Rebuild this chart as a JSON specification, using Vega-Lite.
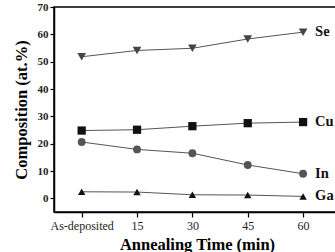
{
  "$schema": "https://vega.github.io/schema/vega-lite/v6.json",
  "autosize": "none",
  "width": 286,
  "height": 205,
  "padding": {"left": 54, "top": 7, "right": 0, "bottom": 40},
  "background": "white",
  "config": {
    "font": "Liberation Serif",
    "view": {"stroke": "black", "strokeWidth": 1.5},
    "axis": {"grid": false, "domainColor": "black", "domainWidth": 1.5, "tickColor": "black", "tickWidth": 1.2, "labelColor": "#222", "titleColor": "black", "labelFont": "Liberation Serif", "titleFont": "Liberation Serif"}
  },
  "data": {
    "values": [
      {"el": "Se", "t": 0, "v": 51.8},
      {"el": "Se", "t": 15, "v": 54.1},
      {"el": "Se", "t": 30, "v": 54.9},
      {"el": "Se", "t": 45, "v": 58.3},
      {"el": "Se", "t": 60, "v": 60.8},
      {"el": "Cu", "t": 0, "v": 24.8},
      {"el": "Cu", "t": 15, "v": 25.1},
      {"el": "Cu", "t": 30, "v": 26.4},
      {"el": "Cu", "t": 45, "v": 27.5},
      {"el": "Cu", "t": 60, "v": 27.9},
      {"el": "In", "t": 0, "v": 20.6},
      {"el": "In", "t": 15, "v": 17.9},
      {"el": "In", "t": 30, "v": 16.5},
      {"el": "In", "t": 45, "v": 12.2},
      {"el": "In", "t": 60, "v": 9.0},
      {"el": "Ga", "t": 0, "v": 2.4},
      {"el": "Ga", "t": 15, "v": 2.3},
      {"el": "Ga", "t": 30, "v": 1.3},
      {"el": "Ga", "t": 45, "v": 1.2},
      {"el": "Ga", "t": 60, "v": 0.7}
    ]
  },
  "encoding": {
    "x": {
      "field": "t", "type": "quantitative",
      "scale": {"domain": [-7.5, 70], "nice": false, "zero": false},
      "axis": {
        "values": [0, 15, 30, 45, 60],
        "labelExpr": "datum.value == 0 ? 'As-deposited' : datum.label",
        "labelFontSize": 12, "tickSize": 5, "labelPadding": 3,
        "title": "Annealing Time (min)", "titleFontSize": 16.5, "titleFontWeight": "bold", "titlePadding": 5
      }
    },
    "y": {
      "field": "v", "type": "quantitative",
      "scale": {"domain": [-5, 70], "nice": false, "zero": false},
      "axis": {
        "values": [0, 10, 20, 30, 40, 50, 60, 70],
        "labelFontSize": 11, "labelFontWeight": "bold", "tickSize": 4, "labelPadding": 2,
        "title": "Composition (at.%)", "titleFontSize": 16.5, "titleFontWeight": "bold", "titlePadding": 8
      }
    }
  },
  "layer": [
    {
      "mark": {"type": "line", "color": "#555", "strokeWidth": 1},
      "encoding": {"detail": {"field": "el"}}
    },
    {
      "mark": {"type": "point", "filled": true, "opacity": 1},
      "encoding": {
        "shape": {
          "field": "el", "type": "nominal",
          "scale": {"domain": ["Se", "Cu", "In", "Ga"], "range": ["triangle-down", "square", "circle", "triangle-up"]},
          "legend": null
        },
        "color": {
          "field": "el", "type": "nominal",
          "scale": {"domain": ["Se", "Cu", "In", "Ga"], "range": ["#444", "#111", "#555", "#111"]},
          "legend": null
        },
        "size": {
          "field": "el", "type": "nominal",
          "scale": {"domain": ["Se", "Cu", "In", "Ga"], "range": [75, 55, 70, 65]},
          "legend": null
        }
      }
    },
    {
      "transform": [{"filter": "datum.t == 60"}],
      "mark": {"type": "text", "align": "left", "baseline": "middle", "dx": 12, "fontSize": 14.5, "fontWeight": "bold", "font": "Liberation Serif", "color": "#111"},
      "encoding": {"text": {"field": "el"}}
    }
  ]
}
